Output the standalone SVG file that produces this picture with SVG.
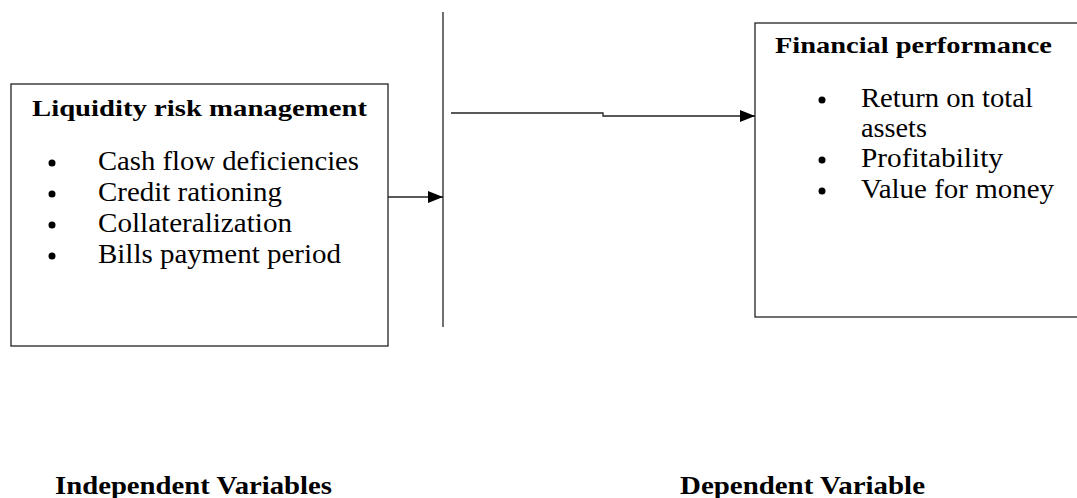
<svg xmlns="http://www.w3.org/2000/svg" width="1077" height="498" viewBox="0 0 1077 498">
<defs>
<style>
.box{fill:#fff;stroke:#222;stroke-width:1.3}
.ln{fill:none;stroke:#222;stroke-width:1.3}
.t{font-family:"Liberation Serif","Times New Roman",serif;fill:#000}
.h{font-weight:bold;font-size:23px}
.b{font-size:27px}
.lab{font-family:"Liberation Serif","Times New Roman",serif;font-weight:bold;font-size:26px;fill:#000}
</style>
<marker id="arr" markerWidth="15" markerHeight="12" refX="15" refY="6" orient="auto" markerUnits="userSpaceOnUse">
<path d="M0,0 L15,6 L0,12 Z" fill="#000"/>
</marker>
</defs>
<rect width="1077" height="498" fill="#fff"/>
<g id="independent">
<rect class="box" x="11" y="84" width="377" height="262"/>
<text class="t h" x="32" y="116" textLength="335" lengthAdjust="spacingAndGlyphs">Liquidity  risk  management</text>
<g class="t b">
<circle cx="52" cy="163" r="3.5" fill="#000"/><text x="98" y="170" textLength="261" lengthAdjust="spacingAndGlyphs">Cash flow deficiencies</text>
<circle cx="52" cy="194" r="3.5" fill="#000"/><text x="98" y="201" textLength="184" lengthAdjust="spacingAndGlyphs">Credit rationing</text>
<circle cx="52" cy="225" r="3.5" fill="#000"/><text x="98" y="232" textLength="194" lengthAdjust="spacingAndGlyphs">Collateralization</text>
<circle cx="52" cy="256" r="3.5" fill="#000"/><text x="98" y="263" textLength="243" lengthAdjust="spacingAndGlyphs">Bills payment period</text>
</g>
</g>
<g id="dependent">
<rect class="box" x="755" y="23" width="330" height="294"/>
<text class="t h" x="775" y="53" textLength="277" lengthAdjust="spacingAndGlyphs">Financial performance</text>
<g class="t b">
<circle cx="822" cy="100" r="3.5" fill="#000"/><text x="861" y="107" textLength="172" lengthAdjust="spacingAndGlyphs">Return on total</text>
<text x="861" y="137" textLength="66" lengthAdjust="spacingAndGlyphs">assets</text>
<circle cx="822" cy="160" r="3.5" fill="#000"/><text x="861" y="167" textLength="142" lengthAdjust="spacingAndGlyphs">Profitability</text>
<circle cx="822" cy="191" r="3.5" fill="#000"/><text x="861" y="198" textLength="193" lengthAdjust="spacingAndGlyphs">Value for money</text>
</g>
</g>
<g id="connectors">
<line class="ln" x1="443" y1="12" x2="443" y2="327"/>
<line class="ln" x1="388" y1="197" x2="443" y2="197" marker-end="url(#arr)"/>
<path class="ln" d="M451,113 H603 V116 H755" marker-end="url(#arr)"/>
</g>
<g id="labels">
<text class="lab" x="55" y="494" textLength="277" lengthAdjust="spacingAndGlyphs">Independent  Variables</text>
<text class="lab" x="680" y="494" textLength="245" lengthAdjust="spacingAndGlyphs">Dependent  Variable</text>
</g>
</svg>
